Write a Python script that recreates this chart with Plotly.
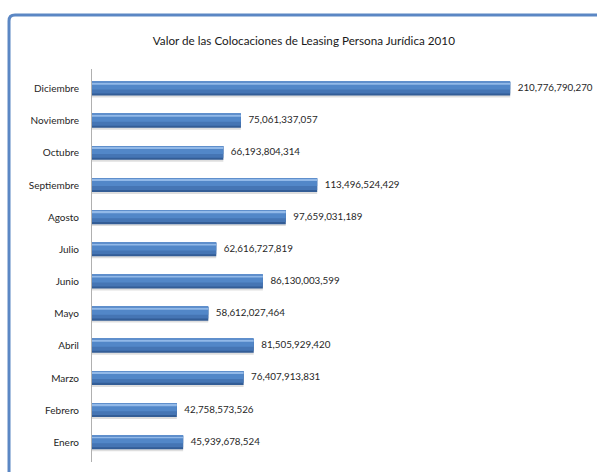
import plotly.graph_objects as go

# Monthly leasing placements, legal-entity clients, 2010
months = ["Enero", "Febrero", "Marzo", "Abril", "Mayo", "Junio", "Julio",
          "Agosto", "Septiembre", "Octubre", "Noviembre", "Diciembre"]
values = [45939678524, 42758573526, 76407913831, 81505929420, 58612027464,
          86130003599, 62616727819, 97659031189, 113496524429, 66193804314,
          75061337057, 210776790270]

title_text = "Valor de las Colocaciones de Leasing Persona Jurídica 2010"
font_family = "Lato, 'Open Sans', sans-serif"

fig = go.Figure()

# Layered bars give each bar a rounded, cylinder-like shading:
# (width, offset, colour)
layers = [
    (0.43, -0.275, "rgba(0,0,0,0.13)"),   # soft drop shadow
    (0.43, -0.215, "#335d96"),            # dark lower edge
    (0.36, -0.15, "#4575b4"),             # main body
    (0.22, -0.03, "#5287c8"),             # upper body
    (0.07, 0.125, "#92b9e8"),             # highlight
    (0.02, 0.195, "#5f8fcc"),             # top rim
]

for i, (w, off, col) in enumerate(layers):
    last = i == len(layers) - 1
    fig.add_trace(go.Bar(
        x=values, y=months, orientation="h",
        width=w, offset=off,
        marker=dict(color=col, line=dict(width=0)),
        hoverinfo="skip" if not last else "x+y",
        showlegend=False,
    ))

# Value labels just past the end of each bar
fig.add_trace(go.Scatter(
    x=values, y=months, mode="text",
    text=["\u00a0\u00a0\u00a0" + f"{v:,}" for v in values],
    textposition="middle right",
    textfont=dict(family=font_family, size=9.8, color="#262626"),
    cliponaxis=False, showlegend=False, hoverinfo="skip",
))

# Chart frame (rounded top-left corner, running off the right and bottom)
x0, y0, r = -0.1673, 1.1374, 0.012
fig.add_shape(
    type="path", xref="paper", yref="paper",
    path=(f"M {x0} -0.05 L {x0} {y0 - r*1.26} "
          f"Q {x0} {y0} {x0 + r} {y0} L 1.05 {y0}"),
    line=dict(color="#5b87c4", width=3),
)

fig.update_layout(
    width=597, height=472,
    margin=dict(l=92, r=9, t=69, b=10),
    paper_bgcolor="white", plot_bgcolor="white",
    barmode="overlay",
    title=dict(text=title_text, x=0.509, xanchor="center",
               y=0.913, yanchor="middle",
               font=dict(family=font_family, size=11.7, color="#1a1a1a")),
    xaxis=dict(range=[0, 250e9], visible=False, fixedrange=True),
    yaxis=dict(
        categoryorder="array", categoryarray=months,
        showline=True, linecolor="#b0b0b0", linewidth=1,
        showgrid=False, zeroline=False, ticks="",
        ticklabelstandoff=10,
        tickfont=dict(family=font_family, size=10, color="#262626"),
        fixedrange=True,
    ),
    font=dict(family=font_family),
)

fig.write_html("out.html")
